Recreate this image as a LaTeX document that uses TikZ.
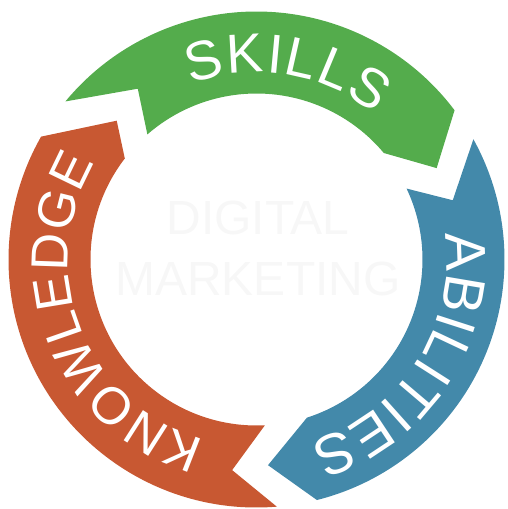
\documentclass[tikz,border=0pt]{standalone}
\usepackage{fontspec}
\setmainfont{Liberation Sans}
\usetikzlibrary{decorations.text, positioning}
\definecolor{knoworange}{RGB}{200,88,50}
\definecolor{skillgreen}{RGB}{84,172,76}
\definecolor{abilblue}{RGB}{67,137,170}
\tikzstyle{band}=[draw=none]
\tikzstyle{bandtext}=[decorate, decoration={text along path, text align={fit to path}, text color=white}]
\tikzstyle{hub}=[inner sep=0pt, text=black!3, font=\fontsize{48pt}{48pt}\selectfont]

\begin{document}
\begin{tikzpicture}
  \useasboundingbox (-256.5pt,-249.5pt) rectangle (250.5pt,259.5pt);
  % the three arrows of the ring
  \fill[band, knoworange] (274.7:248pt) arc[start angle=274.7, end angle=150.3, radius=248pt] -- (135.2:197pt) -- (142.5:166pt) arc[start angle=142.5, end angle=272.9, radius=166pt] -- (263.4:212pt) -- cycle;
  \fill[band, skillgreen] (140.4:248pt) arc[start angle=140.4, end angle=37.0, radius=248pt] -- (26.9:202pt) -- (39.9:166pt) arc[start angle=39.9, end angle=131.1, radius=166pt] -- (124.8:208pt) -- cycle;
  \fill[band, abilblue] (29.0:248pt) arc[start angle=29.0, end angle=-75.9, radius=248pt] -- (-86.8:206pt) -- (-72.3:166pt) arc[start angle=-72.3, end angle=25.3, radius=166pt] -- (16.8:205pt) -- cycle;
  % words along the ring
  \path[bandtext, decoration={text={|\fontsize{52pt}{52pt}\selectfont|KNOWLEDGE}}] (254:188pt) arc[start angle=254, end angle=148.9, radius=188pt];
  \path[bandtext, decoration={text={|\fontsize{55pt}{55pt}\selectfont|SKILLS}}] (110.5:187pt) arc[start angle=110.5, end angle=51, radius=187pt];
  \path[bandtext, decoration={text={|\fontsize{57pt}{57pt}\selectfont|ABILITIES}}] (7.8:190pt) arc[start angle=7.8, end angle=-73.8, radius=190pt];
  % centre
  \node[hub] (digital) at (1.5pt,41.5pt) {DIGITAL};
  \node[hub] (marketing) [below=27pt of digital] {MARKETING};
\end{tikzpicture}
\end{document}
